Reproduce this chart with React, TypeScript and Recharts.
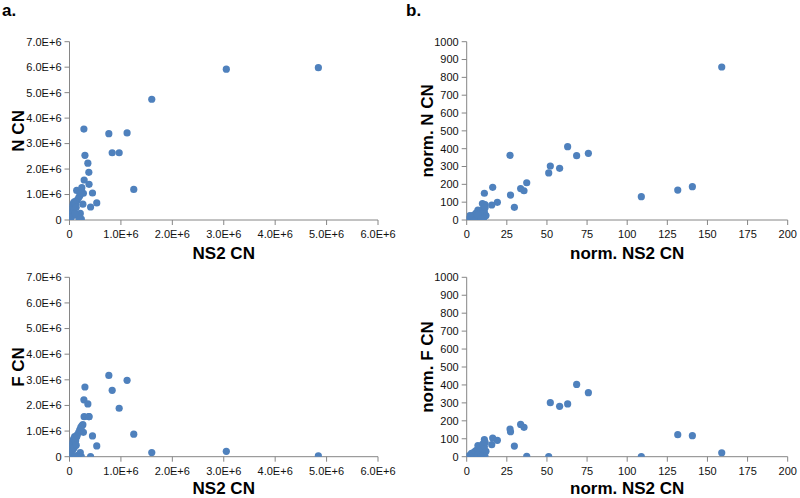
import React from "react";
import { ScatterChart, Scatter, XAxis, YAxis } from "recharts";

// raw copy numbers (panel a / c share the NS2 values)
const ns2Raw = [
  4.84e6, 3.05e6, 1.6e6, 0.28e6, 0.765e6, 1.12e6, 0.83e6, 0.966e6, 0.3e6, 0.357e6,
  0.376e6, 1.25e6, 0.285e6, 0.38e6, 0.447e6, 0.53e6, 0.41e6, 0.26e6, 0.14e6, 0.24e6,
  0.27e6, 0.21e6, 0.23e6, 0, 0.01e6, 0.02e6, 0.03e6, 0.04e6, 0.05e6, 0.06e6,
  0.07e6, 0.08e6, 0.1e6, 0.12e6, 0.15e6, 0.18e6, 0.2e6, 0.22e6, 0.06e6, 0.09e6,
  0.13e6, 0.16e6, 0.18e6, 0.04e6, 0.11e6,
];
const nRaw = [
  5.98e6, 5.92e6, 4.74e6, 3.57e6, 3.39e6, 3.42e6, 2.64e6, 2.64e6, 2.54e6, 2.23e6,
  1.87e6, 1.2e6, 1.57e6, 1.4e6, 1.06e6, 0.67e6, 0.51e6, 0.62e6, 1.16e6, 1.27e6,
  1.05e6, 0.26e6, 0.04e6, 0, 0.05e6, 0.15e6, 0.25e6, 0.35e6, 0.45e6, 0.55e6,
  0.62e6, 0.68e6, 0.72e6, 0.6e6, 0.78e6, 0.88e6, 0.95e6, 1.05e6, 0.3e6, 0.4e6,
  0.5e6, 0.2e6, 0.1e6, 0.12e6, 0.25e6,
];
const fRaw = [
  0.03e6, 0.21e6, 0.16e6, 2.22e6, 3.17e6, 2.98e6, 2.59e6, 1.89e6, 2.72e6, 2.06e6,
  1.56e6, 0.88e6, 1.56e6, 1.56e6, 0.81e6, 0.42e6, 0, 1.25e6, 0.78e6, 1.2e6,
  0.95e6, 0.16e6, 0, 0, 0.08e6, 0.18e6, 0.3e6, 0.4e6, 0.48e6, 0.55e6,
  0.62e6, 0.7e6, 0.78e6, 0.62e6, 0.85e6, 0.95e6, 1.05e6, 1.15e6, 0.25e6, 0.35e6,
  0.45e6, 0.05e6, 0, 0.02e6, 0,
];

// normalised copy numbers (panel b / d share the NS2 values)
const ns2Norm = [
  158.9, 27, 62.9, 68.5, 75.8, 52.1, 51.1, 57.9, 37.4, 33.6,
  35.7, 27.3, 29.7, 19.1, 16.2, 15.6, 11, 9.8, 11.4, 108.8,
  131.5, 140.6, 0, 1, 2, 3, 4, 5, 6, 7,
  8, 9, 10, 11, 12, 10.5, 6, 3, 8.5, 4.5,
  7, 11.5, 2, 9,
];
const nNorm = [
  858, 363, 411, 361, 374, 303, 264, 290, 209, 176,
  164, 140, 71, 99, 183, 84, 150, 92, 86, 131,
  168, 187, 0, 5, 12, 18, 25, 30, 40, 55,
  35, 48, 60, 45, 25, 10, 15, 8, 20, 2,
  28, 70, 25, 5,
];
const fNorm = [
  22, 154, 294, 403, 357, 301, 0, 281, 2, 180,
  164, 139, 59, 91, 104, 67, 95, 56, 0, 0,
  123, 117, 0, 3, 8, 15, 20, 28, 35, 62,
  25, 42, 70, 55, 30, 5, 2, 18, 10, 0,
  12, 80, 5, 0,
];

const rawXTicks = [0, 1e6, 2e6, 3e6, 4e6, 5e6, 6e6];
const rawYTicks = [0, 1e6, 2e6, 3e6, 4e6, 5e6, 6e6, 7e6];
const normXTicks = [0, 25, 50, 75, 100, 125, 150, 175, 200];
const normYTicks = [0, 100, 200, 300, 400, 500, 600, 700, 800, 900, 1000];

const dotColor = "#4f81bd";
const axisColor = "#868686";
const font = "'Liberation Sans', Arial, sans-serif";

const pairs = (xs: number[], ys: number[]) => xs.map((x, i) => ({ x, y: ys[i] }));

const sci = (v: number) => (v === 0 ? "0" : (v / 1e6).toFixed(1) + "E+6");

const Dot = (props: any) => <circle cx={props.cx} cy={props.cy} r={3.6} fill={dotColor} />;

const XTitle = ({ text, cx, cy }: any) => (
  <text x={cx} y={cy} dy="0.35em" textAnchor="middle" fontFamily={font} fontWeight="bold" fontSize={17} fill="#000">
    {text}
  </text>
);

const YTitle = ({ text, cx, cy }: any) => (
  <text
    x={cx}
    y={cy}
    dy="0.35em"
    textAnchor="middle"
    transform={`rotate(-90 ${cx} ${cy})`}
    fontFamily={font}
    fontWeight="bold"
    fontSize={17}
    fill="#000"
  >
    {text}
  </text>
);

type PanelProps = {
  left: number;
  top: number;
  height: number;
  plotLeft: number;
  plotRight: number;
  plotTop: number;
  plotBottom: number;
  data: { x: number; y: number }[];
  xTicks: number[];
  yTicks: number[];
  fmt?: (v: number) => string;
  xTitle: string;
  yTitle: string;
  yTitleX: number;
  xTitleY: number;
};

function Panel(p: PanelProps) {
  const width = 400;
  const tick = { fontSize: 11, fontFamily: font, fill: "#111" };
  return (
    <div style={{ position: "absolute", left: p.left, top: p.top }}>
      <ScatterChart
        width={width}
        height={p.height}
        margin={{ top: p.plotTop, right: width - p.plotRight, left: 0, bottom: 0 }}
      >
        <XAxis
          type="number"
          dataKey="x"
          domain={[p.xTicks[0], p.xTicks[p.xTicks.length - 1]]}
          ticks={p.xTicks}
          tickFormatter={p.fmt}
          height={p.height - p.plotBottom}
          stroke={axisColor}
          tickSize={5}
          tickMargin={5}
          tick={tick}
          interval={0}
          allowDataOverflow
          label={<XTitle text={p.xTitle} cx={(p.plotLeft + p.plotRight) / 2} cy={p.xTitleY} />}
        />
        <YAxis
          type="number"
          dataKey="y"
          domain={[p.yTicks[0], p.yTicks[p.yTicks.length - 1]]}
          ticks={p.yTicks}
          tickFormatter={p.fmt}
          width={p.plotLeft}
          stroke={axisColor}
          tickSize={5}
          tickMargin={3}
          tick={tick}
          interval={0}
          allowDataOverflow
          label={<YTitle text={p.yTitle} cx={p.yTitleX} cy={(p.plotTop + p.plotBottom) / 2} />}
        />
        <Scatter data={p.data} shape={<Dot />} isAnimationActive={false} />
      </ScatterChart>
    </div>
  );
}

const letter: React.CSSProperties = {
  position: "absolute",
  fontFamily: font,
  fontWeight: "bold",
  fontSize: 17,
  lineHeight: "20px",
  color: "#000",
};

export default function App() {
  return (
    <div style={{ position: "absolute", left: 0, top: 0, width: 800, height: 498, background: "#fff", overflow: "hidden" }}>
      <div style={{ ...letter, left: 2, top: 1 }}>a.</div>
      <div style={{ ...letter, left: 406, top: 1 }}>b.</div>
      <Panel
        left={0}
        top={0}
        height={266}
        plotLeft={69.5}
        plotRight={378}
        plotTop={41.7}
        plotBottom={220}
        data={pairs(ns2Raw, nRaw)}
        xTicks={rawXTicks}
        yTicks={rawYTicks}
        fmt={sci}
        xTitle="NS2 CN"
        yTitle="N CN"
        yTitleX={18}
        xTitleY={253.5}
      />
      <Panel
        left={0}
        top={250}
        height={248}
        plotLeft={69.5}
        plotRight={378}
        plotTop={27.3}
        plotBottom={206.7}
        data={pairs(ns2Raw, fRaw)}
        xTicks={rawXTicks}
        yTicks={rawYTicks}
        fmt={sci}
        xTitle="NS2 CN"
        yTitle="F CN"
        yTitleX={18}
        xTitleY={238.5}
      />
      <Panel
        left={400}
        top={0}
        height={266}
        plotLeft={66.7}
        plotRight={387.7}
        plotTop={41.7}
        plotBottom={220}
        data={pairs(ns2Norm, nNorm)}
        xTicks={normXTicks}
        yTicks={normYTicks}
        xTitle="norm. NS2 CN"
        yTitle="norm. N CN"
        yTitleX={27.5}
        xTitleY={253.5}
      />
      <Panel
        left={400}
        top={250}
        height={248}
        plotLeft={66.7}
        plotRight={387.7}
        plotTop={27.3}
        plotBottom={206.7}
        data={pairs(ns2Norm, fNorm)}
        xTicks={normXTicks}
        yTicks={normYTicks}
        xTitle="norm. NS2 CN"
        yTitle="norm. F CN"
        yTitleX={27.5}
        xTitleY={238.5}
      />
    </div>
  );
}
